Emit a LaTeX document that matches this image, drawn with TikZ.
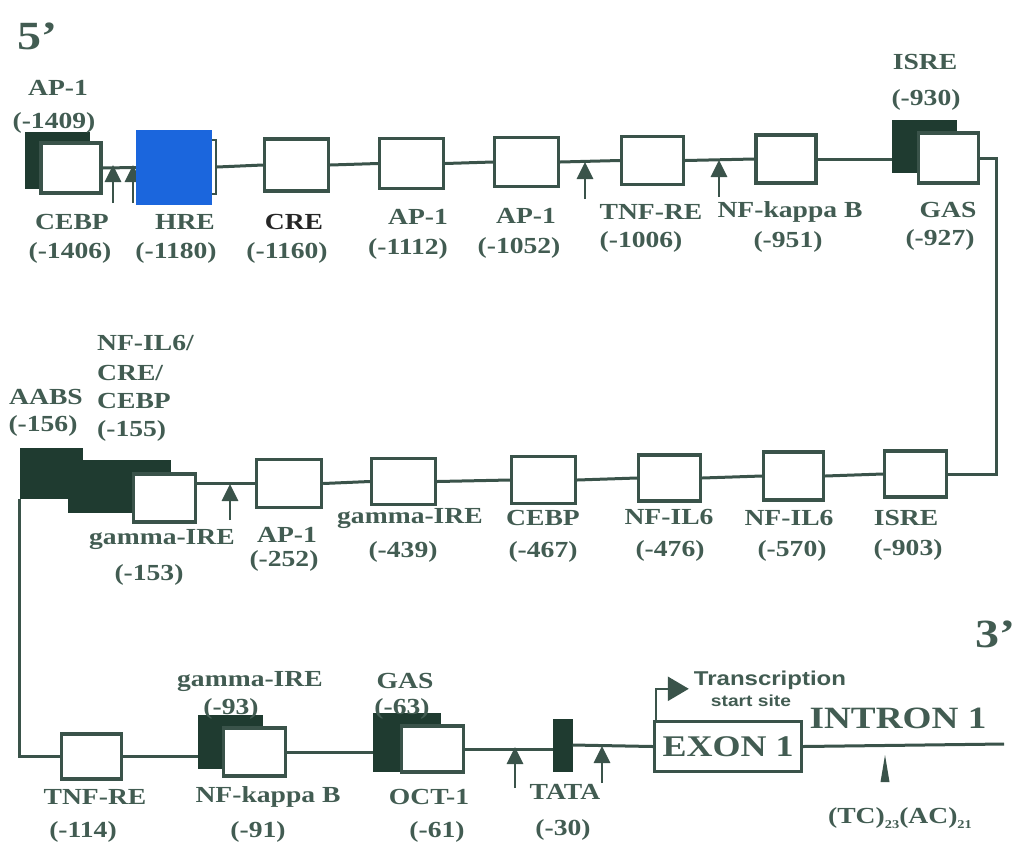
\documentclass[tikz,border=0pt]{standalone}
\usepackage{fontspec}
\setmainfont{Liberation Serif}[FakeStretch=1.2]
\newfontfamily\sansf{Liberation Sans}[FakeStretch=1.2]
\usetikzlibrary{arrows.meta}
\definecolor{ink}{HTML}{3A534A}
\definecolor{txt}{HTML}{425C52}
\definecolor{darkfill}{HTML}{1F3B30}
\definecolor{hreblue}{HTML}{1B66DD}
\tikzset{
  wbox/.style={draw=ink, line width=3.4pt, fill=white, inner sep=0pt},
  dbox/.style={draw=darkfill, line width=1pt, fill=darkfill, inner sep=0pt},
  conn/.style={draw=ink, line width=3pt},
  uparrow/.style={draw=ink, line width=2.8pt, -{Triangle[length=17pt,width=16pt]}},
  lbl/.style={font=\fontsize{23}{25}\selectfont\bfseries, text=txt, inner sep=0pt},
  big/.style={font=\fontsize{40}{42}\selectfont\bfseries, text=txt, inner sep=0pt},
}
\begin{document}
\begin{tikzpicture}[x=1pt,y=-1pt]
\useasboundingbox (0,0) rectangle (1014,847);
% ---------- row 1 ----------
\coordinate (a1t) at (113,203); \coordinate (a1h) at (113,165);
\coordinate (a2t) at (133,203); \coordinate (a2h) at (133,165);
\draw[uparrow] (a1t) -- (a1h);
\draw[uparrow] (a2t) -- (a2h);
\node[dbox, minimum width=64pt, minimum height=56pt] (ap1a) at (57,160) {};
\node[wbox, minimum width=60pt, minimum height=50pt] (cebp) at (71,168) {};
\node[draw=ink, line width=2pt, fill=white, minimum width=6pt, minimum height=54pt, inner sep=0pt] (hreedge) at (213,167) {};
\node[fill=hreblue, minimum width=76pt, minimum height=75pt, inner sep=0pt] (hre) at (174,167.5) {};
\node[wbox, minimum width=64pt, minimum height=52pt] (cre) at (296.5,165) {};
\node[wbox, minimum width=64pt, minimum height=50pt] (ap1b) at (411.5,163.5) {};
\node[wbox, minimum width=64pt, minimum height=49pt] (ap1c) at (526.5,162) {};
\node[wbox, minimum width=62pt, minimum height=48pt] (tnfre) at (652.5,160.5) {};
\node[wbox, minimum width=60pt, minimum height=48pt] (nfkb) at (786,159) {};
\node[dbox, minimum width=64pt, minimum height=52pt] (isre) at (924.5,146) {};
\node[wbox, minimum width=60pt, minimum height=50pt] (gas) at (948.5,158) {};
\coordinate (rx) at (996,0);
\draw[conn] (cebp.east) -- (hre.west);
\draw[conn] (hreedge.east) -- (cre.west);
\draw[conn] (cre.east) -- (ap1b.west);
\draw[conn] (ap1b.east) -- (ap1c.west);
\draw[conn] (ap1c.east) -- (tnfre.west);
\draw[conn] (tnfre.east) -- (nfkb.west);
\draw[conn] (nfkb.east) -- (isre.west |- nfkb.east);
\coordinate (a3t) at (585,199); \coordinate (a3h) at (585,162);
\coordinate (a4t) at (719,197); \coordinate (a4h) at (719,160);
\draw[uparrow] (a3t) -- (a3h);
\draw[uparrow] (a4t) -- (a4h);
% ---------- row 2 ----------
\node[wbox, minimum width=62pt, minimum height=46pt] (isre2) at (915.5,474) {};
\node[wbox, minimum width=60pt, minimum height=48pt] (nfil6a) at (793.5,476) {};
\node[wbox, minimum width=62pt, minimum height=46pt] (nfil6b) at (669.5,478) {};
\node[wbox, minimum width=64pt, minimum height=47pt] (cebp2) at (543.5,480) {};
\node[wbox, minimum width=64pt, minimum height=46pt] (gire2) at (403.5,481.5) {};
\node[wbox, minimum width=65pt, minimum height=48pt] (ap1d) at (289,483.5) {};
\node[dbox, minimum width=62pt, minimum height=50pt] (aabs) at (51,473) {};
\node[dbox, minimum width=102pt, minimum height=52pt] (nfil6d) at (119,486) {};
\node[wbox, minimum width=62pt, minimum height=48pt] (gire153) at (164.5,498) {};
\draw[conn] (gas.east) -- (gas.east -| rx) -- (rx |- isre2.east) -- (isre2.east);
\draw[conn] (isre2.west) -- (nfil6a.east);
\draw[conn] (nfil6a.west) -- (nfil6b.east);
\draw[conn] (nfil6b.west) -- (cebp2.east);
\draw[conn] (cebp2.west) -- (gire2.east);
\draw[conn] (gire2.west) -- (ap1d.east);
\draw[conn] (ap1d.west) -- (ap1d.west -| gire153.east);
\coordinate (a5t) at (230,520); \coordinate (a5h) at (230,484);
\draw[uparrow] (a5t) -- (a5h);
% ---------- row 3 ----------
\node[wbox, minimum width=60pt, minimum height=45pt] (tnfre3) at (91.5,756.5) {};
\node[dbox, minimum width=64pt, minimum height=53pt] (gire3) at (230,741.5) {};
\node[wbox, minimum width=62pt, minimum height=48pt] (nfkb3) at (254.5,752) {};
\node[dbox, minimum width=67pt, minimum height=58pt] (gas3) at (406.5,742.5) {};
\node[wbox, minimum width=62pt, minimum height=46pt] (oct1) at (432.5,749) {};
\node[dbox, minimum width=19pt, minimum height=52pt] (tata) at (562.5,745) {};
\node[wbox, minimum width=147pt, minimum height=50pt, font=\fontsize{30}{32}\selectfont\bfseries, text=txt] (exon) at (728,746.5) {EXON 1};
\coordinate (iend) at (1004,744);
\draw[conn] (aabs.south west) -- (aabs.south west |- tnfre3.west) -- (tnfre3.west);
\draw[conn] (tnfre3.east) -- (gire3.west |- tnfre3.east);
\draw[conn] (nfkb3.east) -- (gas3.west |- nfkb3.east);
\draw[conn] (oct1.east) -- (tata.west |- oct1.east);
\draw[conn] (tata.east) -- (exon.west);
\draw[conn] (exon.east) -- (iend);
\coordinate (a6t) at (515,788); \coordinate (a6h) at (515,747);
\coordinate (a7t) at (602,783); \coordinate (a7h) at (602,746);
\draw[uparrow] (a6t) -- (a6h);
\draw[uparrow] (a7t) -- (a7h);
\draw[draw=ink, line width=2.6pt, -{Triangle[length=21pt,width=24pt]}]
  ([xshift=3pt]exon.north west) -- ++(0,-31) -- ++(33,0);
\fill[ink] (880.5,782) -- (889.5,782) -- (885,755) -- cycle;
% ---------- labels ----------
\node[big] (five) at (37,36) {5’};
\node[big] (three) at (995,634) {3’};
\node[lbl] at (58,88) {AP-1};
\node[lbl] at (54,123) {(-1409)};
\node[lbl] at (72,222) {CEBP};
\node[lbl] at (70,253) {(-1406)};
\node[lbl] at (185,222) {HRE};
\node[lbl] at (176,253) {(-1180)};
\node[lbl, text=black!85] at (294,222) {CRE};
\node[lbl] at (287,253) {(-1160)};
\node[lbl] at (418,217) {AP-1};
\node[lbl] at (408,249) {(-1112)};
\node[lbl] at (526,216) {AP-1};
\node[lbl] at (519,248) {(-1052)};
\node[lbl] at (651,212) {TNF-RE};
\node[lbl] at (641,242) {(-1006)};
\node[lbl] at (790,212) {NF-kappa B};
\node[lbl] at (788,242) {(-951)};
\node[lbl] at (948,210) {GAS};
\node[lbl] at (940,240) {(-927)};
\node[lbl] at (925,62) {ISRE};
\node[lbl] at (926,100) {(-930)};
% row 2
\node[lbl] at (46,397) {AABS};
\node[lbl] at (43,426) {(-156)};
\node[lbl, anchor=west] at (97,343) {NF-IL6/};
\node[lbl, anchor=west] at (97,373) {CRE/};
\node[lbl, anchor=west] at (97,401) {CEBP};
\node[lbl, anchor=west] at (97,431) {(-155)};
\node[lbl] at (162,539) {gamma-IRE};
\node[lbl] at (149,575) {(-153)};
\node[lbl] at (287,535) {AP-1};
\node[lbl] at (284,561) {(-252)};
\node[lbl] at (410,518) {gamma-IRE};
\node[lbl] at (403,552) {(-439)};
\node[lbl] at (543,518) {CEBP};
\node[lbl] at (543,552) {(-467)};
\node[lbl] at (669,517) {NF-IL6};
\node[lbl] at (670,551) {(-476)};
\node[lbl] at (789,518) {NF-IL6};
\node[lbl] at (792,551) {(-570)};
\node[lbl] at (906,518) {ISRE};
\node[lbl] at (908,550) {(-903)};
% row 3
\node[lbl] at (250,681) {gamma-IRE};
\node[lbl] at (231,709) {(-93)};
\node[lbl] at (405,681) {GAS};
\node[lbl] at (402,709) {(-63)};
\node[lbl] at (95,797) {TNF-RE};
\node[lbl] at (83,832) {(-114)};
\node[lbl] at (268,797) {NF-kappa B};
\node[lbl] at (258,832) {(-91)};
\node[lbl] at (429,797) {OCT-1};
\node[lbl] at (437,832) {(-61)};
\node[lbl] at (565,792) {TATA};
\node[lbl] at (563,830) {(-30)};
\node[font=\sansf\fontsize{20}{22}\selectfont\bfseries, text=txt, inner sep=0pt] at (770,680) {Transcription};
\node[font=\sansf\fontsize{16}{18}\selectfont\bfseries, text=txt, inner sep=0pt] at (751,701) {start site};
\node[font=\fontsize{31}{33}\selectfont\bfseries, text=txt, inner sep=0pt] at (898,718) {INTRON 1};
\node[lbl] at (900,818) {(TC)\raisebox{-5pt}{\fontsize{12}{12}\selectfont 23}(AC)\raisebox{-5pt}{\fontsize{12}{12}\selectfont 21}};
\end{tikzpicture}
\end{document}
